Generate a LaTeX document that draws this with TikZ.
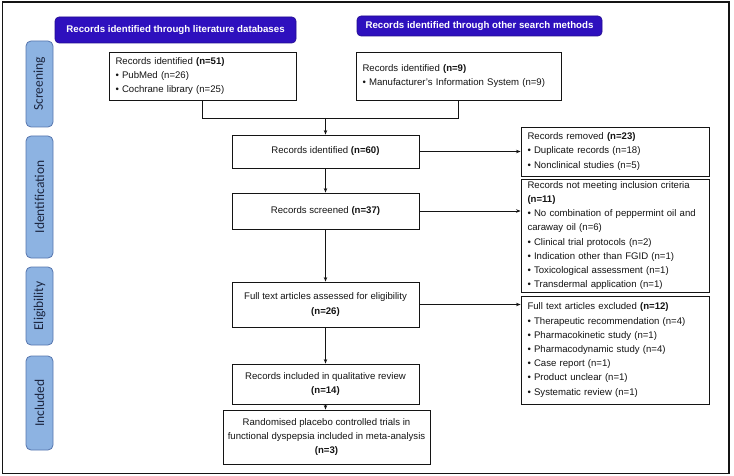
\documentclass[tikz,border=0pt]{standalone}
\usepackage{fontspec}
\setmainfont{Liberation Sans}
\newfontfamily\sidefont{Carlito}
\usetikzlibrary{arrows.meta}
\definecolor{hdrblue}{HTML}{2E10BE}
\definecolor{sidefill}{HTML}{8DB3E2}
\definecolor{sidedraw}{HTML}{5676AE}
\definecolor{sidetext}{HTML}{1C2640}
\definecolor{ink}{HTML}{141414}
\begin{document}
\begin{tikzpicture}[x=1pt,y=-1pt,
  txt/.style={font=\fontsize{9.6}{14.2}\selectfont, text=ink},
  box/.style={draw=ink, line width=0.9pt, fill=white, txt, inner sep=0pt},
  lbox/.style={box, align=left, inner xsep=6.5pt},
  cbox/.style={box, align=center},
  hdr/.style={fill=hdrblue, draw=hdrblue!75!black, line width=0.6pt, rounded corners=4pt, text=white,
              font=\bfseries\fontsize{9.7}{12}\selectfont, inner sep=0pt},
  side/.style={fill=sidefill, draw=sidedraw, line width=0.8pt, rounded corners=5pt,
               minimum height=27pt, inner sep=0pt, rotate=90,
               font=\sidefont\fontsize{13.5}{14}\selectfont, text=sidetext},
  ln/.style={draw=ink, line width=0.9pt},
  arr/.style={ln, -{Stealth[length=4.5pt,width=3.5pt]}}]
\useasboundingbox (0,0) rectangle (734,476);
\draw[line width=1.6pt, draw=ink] (2.5,2) rectangle (729,473.5);

% headers
\node[hdr, minimum width=241, minimum height=26] (h1) at (175.5,30) {Records identified through literature databases};
\node[hdr, minimum width=245, minimum height=20] (h2) at (479.5,26) {Records identified through other search methods};

% side labels
\node[side, minimum width=86]  (s1) at (39.5,84)  {Screening};
\node[side, minimum width=122] (s2) at (39.5,197) {Identification};
\node[side, minimum width=78]  (s3) at (39.5,306) {Eligibility};
\node[side, minimum width=94]  (s4) at (39.5,403) {Included};

% main column
\node[lbox, minimum width=187, minimum height=48, text width=174] (b1) at (202.5,76)
  {Records identified \textbf{(n=51)}\\ • PubMed (n=26)\\ • Cochrane library (n=25)};
\node[lbox, minimum width=205, minimum height=48, text width=192] (b2) at (458.5,76)
  {Records identified \textbf{(n=9)}\\ • Manufacturer’s Information System (n=9)};
\node[cbox, minimum width=187, minimum height=33] (b3) at (325.5,151.5)
  {Records identified \textbf{(n=60)}};
\node[cbox, minimum width=187, minimum height=36] (b4) at (325.5,211)
  {Records screened \textbf{(n=37)}};
\node[cbox, minimum width=187, minimum height=45] (b5) at (325.5,304.5)
  {Full text articles assessed for eligibility\\ \textbf{(n=26)}};
\node[cbox, minimum width=187, minimum height=40] (b6) at (325.5,384)
  {Records included in qualitative review\\ \textbf{(n=14)}};
\node[cbox, minimum width=207, minimum height=54] (b7) at (326.5,437)
  {Randomised placebo controlled trials in\\ functional dyspepsia included in meta-analysis\\ \textbf{(n=3)}};

% right column
\node[lbox, minimum width=188, minimum height=49, text width=175] (rem) at (615,151.5)
  {Records removed \textbf{(n=23)}\\ • Duplicate records (n=18)\\ • Nonclinical studies (n=5)};
\node[lbox, minimum width=188, minimum height=113, text width=175] (nm) at (615,235.5)
  {Records not meeting inclusion criteria\\ \textbf{(n=11)}\\ • No combination of peppermint oil and\\ caraway oil (n=6)\\ • Clinical trial protocols (n=2)\\ • Indication other than FGID (n=1)\\ • Toxicological assessment (n=1)\\ • Transdermal application (n=1)};
\node[lbox, minimum width=188, minimum height=108, text width=175] (exc) at (615,350)
  {Full text articles excluded \textbf{(n=12)}\\ • Therapeutic recommendation (n=4)\\ • Pharmacokinetic study (n=1)\\ • Pharmacodynamic study (n=4)\\ • Case report (n=1)\\ • Product unclear (n=1)\\ • Systematic review (n=1)};

% connectors
\coordinate (j) at (325.5,118);
\draw[ln] (b1.south) -- (b1.south |- j) -- (b2.south |- j) -- (b2.south);
\draw[arr] (j) -- (b3.north);
\draw[arr] (b3.south) -- (b4.north);
\draw[arr] (b4.south) -- (b5.north);
\draw[arr] (b5.south) -- (b6.north);
\draw[arr] (b6.south) -- (b6.south |- b7.north);
\draw[arr] (b3.east) -- (b3.east -| rem.west);
\draw[arr] (b4.east) -- (b4.east -| nm.west);
\draw[arr] (b5.east) -- (b5.east -| exc.west);
\end{tikzpicture}
\end{document}
